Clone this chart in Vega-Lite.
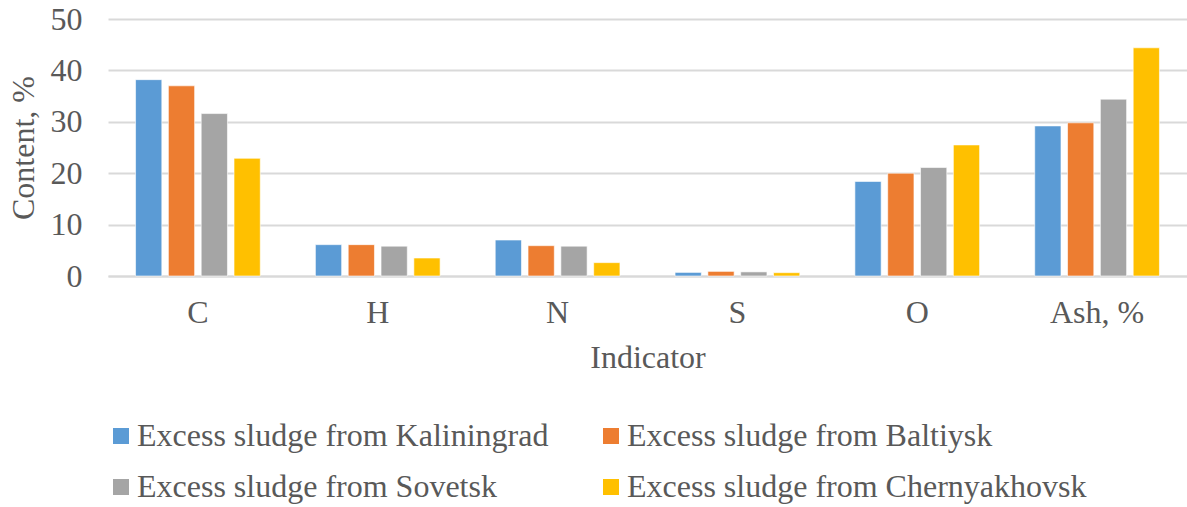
{
  "$schema": "https://vega.github.io/schema/vega-lite/v6.json",
  "autosize": {"type": "none"},
  "width": 1079,
  "height": 257,
  "padding": {"left": 108, "top": 19, "right": 0, "bottom": 231},
  "background": "white",
  "config": {
    "font": "Liberation Serif, Times New Roman, serif",
    "view": {"stroke": null},
    "axis": {
      "labelFont": "Liberation Serif, Times New Roman, serif",
      "titleFont": "Liberation Serif, Times New Roman, serif",
      "labelColor": "#595959",
      "titleColor": "#595959",
      "labelFontSize": 32,
      "titleFontSize": 32,
      "titleFontWeight": "normal"
    },
    "legend": {
      "labelFont": "Liberation Serif, Times New Roman, serif",
      "labelColor": "#595959",
      "labelFontSize": 32,
      "padding": 0
    }
  },
  "data": {
    "values": [
      {"indicator": "C", "source": "Excess sludge from Kaliningrad", "value": 38.2},
      {"indicator": "C", "source": "Excess sludge from Baltiysk", "value": 37.0},
      {"indicator": "C", "source": "Excess sludge from Sovetsk", "value": 31.6},
      {"indicator": "C", "source": "Excess sludge from Chernyakhovsk", "value": 22.9},
      {"indicator": "H", "source": "Excess sludge from Kaliningrad", "value": 6.1},
      {"indicator": "H", "source": "Excess sludge from Baltiysk", "value": 6.1},
      {"indicator": "H", "source": "Excess sludge from Sovetsk", "value": 5.8},
      {"indicator": "H", "source": "Excess sludge from Chernyakhovsk", "value": 3.5},
      {"indicator": "N", "source": "Excess sludge from Kaliningrad", "value": 7.0},
      {"indicator": "N", "source": "Excess sludge from Baltiysk", "value": 5.9},
      {"indicator": "N", "source": "Excess sludge from Sovetsk", "value": 5.8},
      {"indicator": "N", "source": "Excess sludge from Chernyakhovsk", "value": 2.6},
      {"indicator": "S", "source": "Excess sludge from Kaliningrad", "value": 0.7},
      {"indicator": "S", "source": "Excess sludge from Baltiysk", "value": 0.9},
      {"indicator": "S", "source": "Excess sludge from Sovetsk", "value": 0.8},
      {"indicator": "S", "source": "Excess sludge from Chernyakhovsk", "value": 0.65},
      {"indicator": "O", "source": "Excess sludge from Kaliningrad", "value": 18.4},
      {"indicator": "O", "source": "Excess sludge from Baltiysk", "value": 20.0},
      {"indicator": "O", "source": "Excess sludge from Sovetsk", "value": 21.1},
      {"indicator": "O", "source": "Excess sludge from Chernyakhovsk", "value": 25.5},
      {"indicator": "Ash, %", "source": "Excess sludge from Kaliningrad", "value": 29.2},
      {"indicator": "Ash, %", "source": "Excess sludge from Baltiysk", "value": 29.8},
      {"indicator": "Ash, %", "source": "Excess sludge from Sovetsk", "value": 34.4},
      {"indicator": "Ash, %", "source": "Excess sludge from Chernyakhovsk", "value": 44.4}
    ]
  },
  "mark": {"type": "bar", "stroke": "white", "strokeWidth": 1, "strokeOpacity": 0.6},
  "encoding": {
    "x": {
      "field": "indicator",
      "type": "nominal",
      "sort": ["C", "H", "N", "S", "O", "Ash, %"],
      "scale": {"paddingInner": 0.27, "paddingOuter": 0.135},
      "axis": {
        "title": "Indicator",
        "labelAngle": 0,
        "ticks": false,
        "domain": true,
        "domainColor": "#d9d9d9",
        "domainWidth": 2,
        "labelPadding": 21,
        "titlePadding": 14
      }
    },
    "xOffset": {
      "field": "source",
      "type": "nominal",
      "sort": [
        "Excess sludge from Kaliningrad",
        "Excess sludge from Baltiysk",
        "Excess sludge from Sovetsk",
        "Excess sludge from Chernyakhovsk"
      ],
      "scale": {"paddingInner": 0.2, "paddingOuter": 0.1}
    },
    "y": {
      "field": "value",
      "type": "quantitative",
      "scale": {"domain": [0, 50]},
      "axis": {
        "title": "Content, %",
        "values": [0, 10, 20, 30, 40, 50],
        "grid": true,
        "gridColor": "#d9d9d9",
        "gridWidth": 2,
        "ticks": false,
        "domain": false,
        "labelPadding": 26,
        "titlePadding": 10
      }
    },
    "color": {
      "field": "source",
      "type": "nominal",
      "sort": [
        "Excess sludge from Kaliningrad",
        "Excess sludge from Baltiysk",
        "Excess sludge from Sovetsk",
        "Excess sludge from Chernyakhovsk"
      ],
      "scale": {"range": ["#5b9bd5", "#ed7d31", "#a5a5a5", "#ffc000"]},
      "legend": {
        "title": null,
        "orient": "none",
        "direction": "horizontal",
        "legendX": -3,
        "legendY": 401,
        "columns": 2,
        "columnPadding": 46,
        "rowPadding": 19,
        "symbolType": "square",
        "symbolSize": 256,
        "symbolStrokeWidth": 0,
        "labelFont": "Liberation Serif, Times New Roman, serif",
        "labelFontSize": 32,
        "labelColor": "#595959",
        "labelOffset": 0,
        "labelLimit": 700
      }
    }
  }
}
